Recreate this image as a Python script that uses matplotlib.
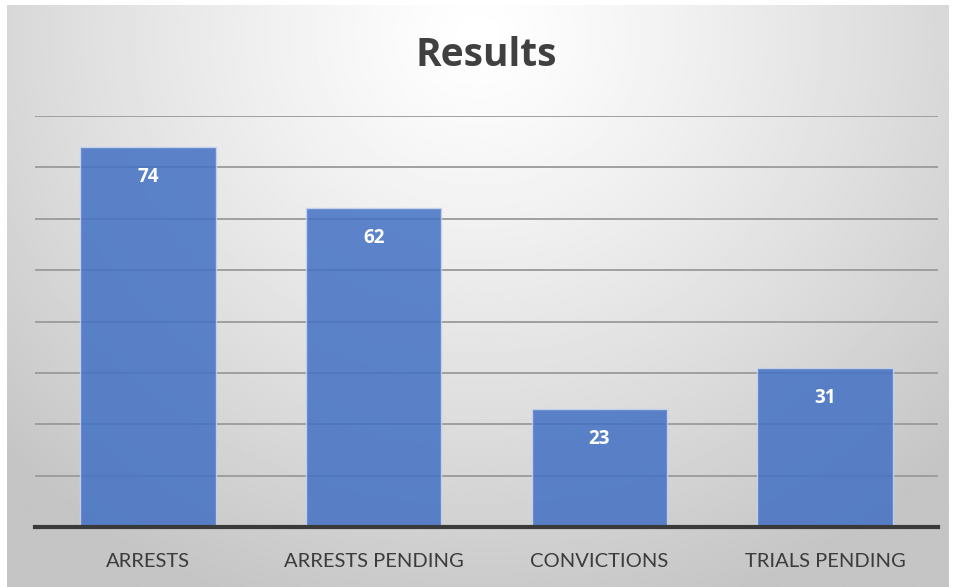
import numpy as np
import matplotlib
matplotlib.use('Agg')
import matplotlib.pyplot as plt

categories = ['ARRESTS', 'ARRESTS PENDING', 'CONVICTIONS', 'TRIALS PENDING']
values = [74, 62, 23, 31]
title = 'Results'

plt.rcParams['font.family'] = ['Lato', 'DejaVu Sans']

fig = plt.figure(figsize=(9.54, 5.87), dpi=100)
fig.patch.set_facecolor('white')

# radial gray backdrop (white near top centre, grey towards the corners)
bg = fig.add_axes([7/954, 0, 942/954, 1 - 5/587], zorder=0)
yy, xx = np.mgrid[0:1:300j, 0:1:500j]
r = np.sqrt(((xx - 0.5) / 0.7) ** 2 + ((yy - 0.05) / 1.05) ** 2)
shade = 1.0 - 0.23 * np.clip(r, 0, 1) ** 1.2
bg.imshow(shade, cmap='gray', vmin=0, vmax=1, aspect='auto',
          extent=[0, 1, 1, 0], interpolation='bilinear')
bg.axis('off')

ax = fig.add_axes([35/954, 1 - 527/587, 903/954, (527 - 116)/587], zorder=1)
ax.patch.set_alpha(0)

x = np.arange(len(categories))
bars = ax.bar(x, values, width=0.6, color='#4472C4', alpha=0.86,
              edgecolor='#c9d5ee', linewidth=1.0, zorder=3)

for xi, v in zip(x, values):
    ax.annotate(str(v), (xi, v), xytext=(0, -30), textcoords='offset pixels',
                ha='center', va='center', color='white',
                fontsize=13.5, fontweight='bold', family=['Open Sans'], zorder=4)

ax.set_xlim(-0.5, 3.5)
ax.set_ylim(0, 80)
ax.set_yticks(np.arange(0, 81, 10))
ax.yaxis.grid(True, color='#9a9a9a', linewidth=1.3, zorder=1)
ax.set_axisbelow(True)
ax.tick_params(axis='y', left=False, labelleft=False)
ax.tick_params(axis='x', length=0, pad=19, labelsize=14.5, labelcolor='#3c3c3c')
ax.set_xticks(x)
ax.set_xticklabels(categories)
for s in ['top', 'right', 'left']:
    ax.spines[s].set_visible(False)
ax.spines['bottom'].set_color('#3a3a3a')
ax.spines['bottom'].set_linewidth(3)
ax.spines['bottom'].set_zorder(5)

fig.text(486/954, 1 - 56/587, title, ha='center', va='center',
         fontsize=28, fontweight='bold', family=['Open Sans'], color='#404040')

fig.savefig('out.png', dpi=100)
